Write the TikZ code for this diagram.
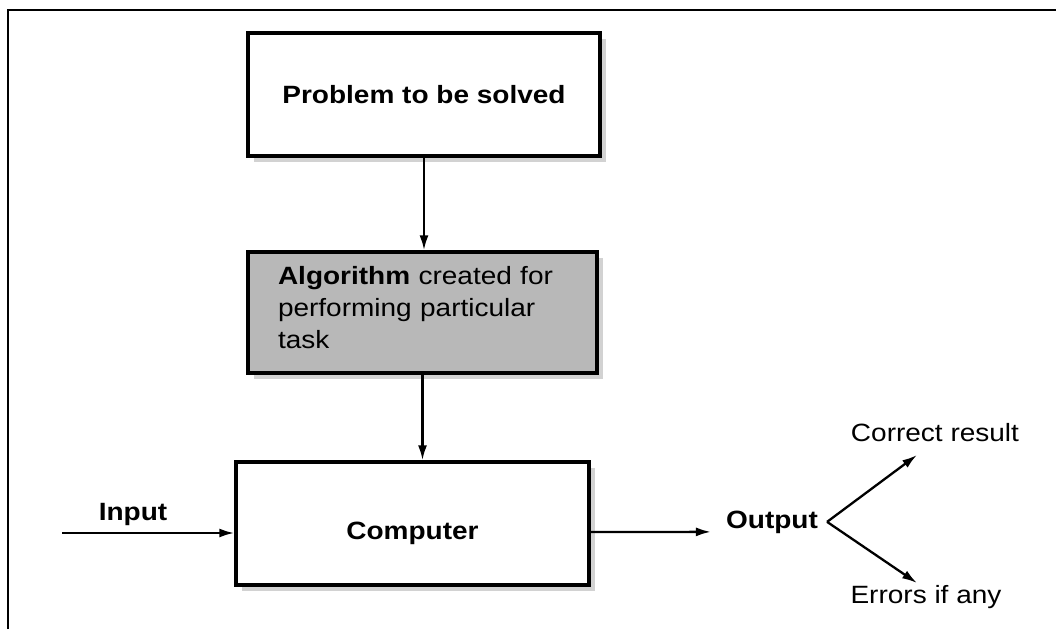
\documentclass[tikz,border=0pt]{standalone}
\usepackage{fontspec}
\setmainfont{Liberation Sans}[FakeStretch=1.12]
\usetikzlibrary{arrows.meta,shadows}

\begin{document}
\begin{tikzpicture}[x=1pt,y=1pt,
  every node/.style={font=\fontsize{25}{32}\selectfont},
  box/.style={draw,line width=3.4pt,fill=white,
    drop shadow={shadow xshift=6pt,shadow yshift=-6pt,fill=black!35}},
  arr/.style={line width=2.3pt,-{Latex[length=15pt,width=9pt]}}]
\useasboundingbox (0,0) rectangle (1056,629);
% frame
\draw[line width=2.2pt] (8,0) -- (8,619) -- (1056,619);
% boxes
\node[box,minimum width=352pt,minimum height=123pt] (prob) at (424,534.5)
    {\textbf{Problem to be solved}};
\node[box,fill=black!28,minimum width=349pt,minimum height=121pt,
    text width=289pt,inner xsep=30pt,align=left] (algo) at (422.5,316.5)
    {\textbf{Algorithm} created for\\ performing particular\\ task\strut};
\node[box,minimum width=353pt,minimum height=123pt] (comp) at (412.5,105.5)
    {\raisebox{-9pt}[18pt][5pt]{\textbf{Computer}}};
% labels
\node[anchor=base] (inp) at (133,109) {\textbf{Input}};
\node[anchor=base,inner sep=4pt] (outp) at (772,101) {\textbf{Output}};
\node[anchor=base] (corr) at (935,187) {Correct result};
\node[anchor=base] (err) at (926,26) {Errors if any};
\coordinate (src) at (62,96);
\coordinate (fork) at ([xshift=5pt]outp.east);
\coordinate (cr) at (917,174);
\coordinate (er) at (917,46);
% connectors
\draw[arr] (prob.south) -- (prob.south |- algo.north);
\draw[arr] (algo.south) -- (algo.south |- comp.north);
\draw[arr] (src) -- (src -| comp.west);
\draw[arr,shorten >=11pt] (comp.east |- 0,97) -- ([yshift=-10pt]outp.west);
\draw[arr] (fork) -- (cr);
\draw[arr] (fork) -- (er);
\end{tikzpicture}
\end{document}
